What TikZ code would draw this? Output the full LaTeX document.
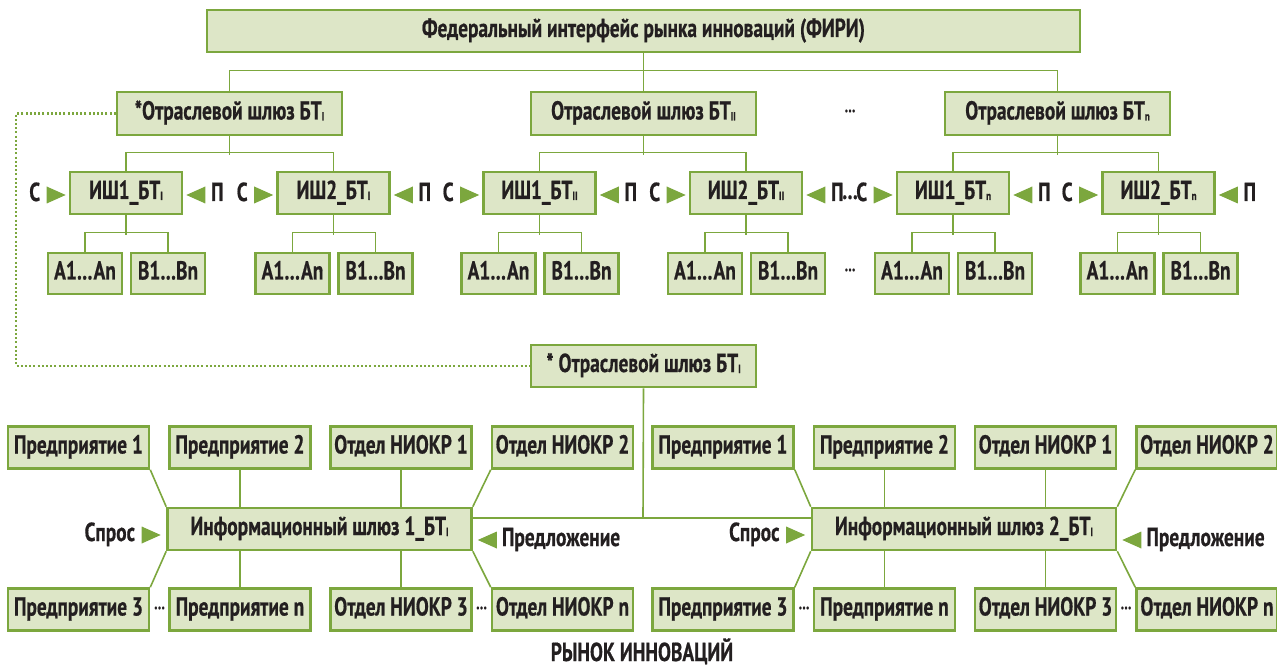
\documentclass[tikz,border=0pt]{standalone}
\usepackage{fontspec}
\newfontfamily\cf{PT Sans Bold}[FakeStretch=0.745, FakeBold=0.6]
\usetikzlibrary{calc}
\definecolor{gfill}{RGB}{221,230,199}
\definecolor{gline}{RGB}{124,167,62}
\definecolor{txt}{RGB}{35,31,32}
\newcommand\sbs[1]{\raisebox{-1pt}{\fontsize{12}{12}\selectfont #1}}
\tikzset{
  box/.style={draw=gline, fill=gfill, line width=2.6pt, inner sep=0pt,
    text=txt, font=\cf\fontsize{26}{30}\selectfont,
    text height=17pt, text depth=5pt, minimum height=42pt},
  obox/.style={box, minimum width=225pt, minimum height=43pt},
  ish/.style={box, minimum width=112pt},
  ab/.style={box, minimum width=74pt, minimum height=41pt},
  mk/.style={box, minimum width=141pt},
  info/.style={box, minimum width=304pt},
  con/.style={draw=gline, line width=1.6pt},
  dotl/.style={draw=gline, line width=2.4pt, dash pattern=on 2pt off 2.2pt},
  lbl/.style={text=txt, inner sep=0pt, font=\cf\fontsize{26}{30}\selectfont,
    text height=17pt, text depth=5pt},
  dots/.style={text=txt, inner sep=0pt, font=\cf\fontsize{18}{20}\selectfont},
  rarr/.pic={\fill[gline] (-9.5,-8.5) -- (9.5,0) -- (-9.5,8.5) -- cycle;},
  larr/.pic={\fill[gline] (9.5,-8.5) -- (-9.5,0) -- (9.5,8.5) -- cycle;},
}
\newcommand\ishg[3]{%
  \node[ish] (#1) at (#2,193) {#3};
  \node[ab] (#1a) at (#2-41,273.5) {A1…An};
  \node[ab] (#1b) at (#2+42,273.5) {B1…Bn};
  \draw[con] (#1.south) -- ++(0,20);
  \draw[con] (#1a.north) -- ++(0,-19) -| (#1b.north);
  \path (#1.west) ++(-12.5,2) pic {rarr};
  \path (#1.east) ++(12.5,2) pic {larr};
  \node[lbl] (#1s) at ($(#1.west)+(-34,2)$) {С};
  \node[lbl] (#1p) at ($(#1.east)+(34,2)$) {П};
}
\newcommand\market[3]{%
  \node[mk] (#1p1) at (78.5+#2,447.5) {Предприятие 1};
  \node[mk] (#1p2) at (240+#2,447.5) {Предприятие 2};
  \node[mk] (#1n1) at (401+#2,447.5) {Отдел НИОКР 1};
  \node[mk] (#1n2) at (562.5+#2,447.5) {Отдел НИОКР 2};
  \node[mk] (#1p3) at (78.5+#2,609.5) {Предприятие 3};
  \node[mk] (#1pn) at (240+#2,609.5) {Предприятие n};
  \node[mk] (#1n3) at (401+#2,609.5) {Отдел НИОКР 3};
  \node[mk] (#1nn) at (562.5+#2,609.5) {Отдел НИОКР n};
  \node[dots] (#1d1) at (159.5+#2,608) {…};
  \node[dots] (#1d2) at (481.5+#2,608) {…};
  \node[info] (#1i) at (319.5+#2,529) {#3};
  \draw[con] (#1p1.south east) -- (#1i.north west);
  \draw[con] (#1p2.south) -- (#1p2.south |- #1i.north);
  \draw[con] (#1n1.south) -- (#1n1.south |- #1i.north);
  \draw[con] (#1n2.south west) -- (#1i.north east);
  \draw[con] (#1p3.north east) -- (#1i.south west);
  \draw[con] (#1pn.north) -- (#1pn.north |- #1i.south);
  \draw[con] (#1n3.north) -- (#1n3.north |- #1i.south);
  \draw[con] (#1nn.north west) -- (#1i.south east);
  \path (#1i.west) ++(-15,6) pic {rarr};
  \node[lbl, anchor=east] (#1sp) at ($(#1i.west)+(-31,6)$) {Спрос};
  \path (#1i.east) ++(14.5,11) pic {larr};
  \node[lbl, anchor=west] (#1pr) at ($(#1i.east)+(29,11)$) {Предложение};
}
\begin{document}
\begin{tikzpicture}[x=1pt,y=-1pt]
\useasboundingbox (0,0) rectangle (1277,668);
% top
\node[box, minimum width=873pt] (fed) at (643.5,31) {Федеральный интерфейс рынка инноваций (ФИРИ)};
\node[obox] (O1) at (229.5,113.5) {*Отраслевой шлюз БТ\sbs{I}};
\node[obox] (O2) at (643.5,113.5) {Отраслевой шлюз БТ\sbs{II}};
\node[obox] (On) at (1057.5,113.5) {Отраслевой шлюз БТ\sbs{n}};
\node[dots] (od) at (850,111) {…};
\draw[con] (fed.south) -- (O2.north);
\draw[con] (O1.north) -- ++(0,-20) -| (On.north);
% gateway groups
\ishg{g1}{126}{ИШ1\_БТ\sbs{I}}
\ishg{g2}{333.5}{ИШ2\_БТ\sbs{I}}
\ishg{g3}{539.5}{ИШ1\_БТ\sbs{II}}
\ishg{g4}{746}{ИШ2\_БТ\sbs{II}}
\ishg{g5}{953}{ИШ1\_БТ\sbs{n}}
\ishg{g6}{1158.5}{ИШ2\_БТ\sbs{n}}
\node[dots] (ad) at (850,270) {…};
\node[lbl] (pd) at (850,193) {…};
\foreach \o/\a/\b in {O1/g1/g2, O2/g3/g4, On/g5/g6}{
  \draw[con] (\o.south) -- ++(0,19);
  \draw[con] (\a.north) -- ++(0,-18) -| (\b.north);
}
% lower part
\node[box, minimum width=225pt] (Ob) at (643.5,366) {* Отраслевой шлюз БТ\sbs{I}};
\coordinate (dl) at (16,366);
\draw[dotl] (O1.west) -| (dl) -- (Ob.west);
\market{L}{0}{Информационный шлюз 1\_БТ\sbs{I}}
\market{R}{644.5}{Информационный шлюз 2\_БТ\sbs{I}}
\coordinate (hj) at (643,518);
\draw[con] (Ob.south) -- (hj);
\draw[con] ($(Li.east)+(0,-11)$) -- ($(Ri.west)+(0,-11)$);
\node[lbl] (mkt) at (642,655) {РЫНОК ИННОВАЦИЙ};
\end{tikzpicture}
\end{document}
